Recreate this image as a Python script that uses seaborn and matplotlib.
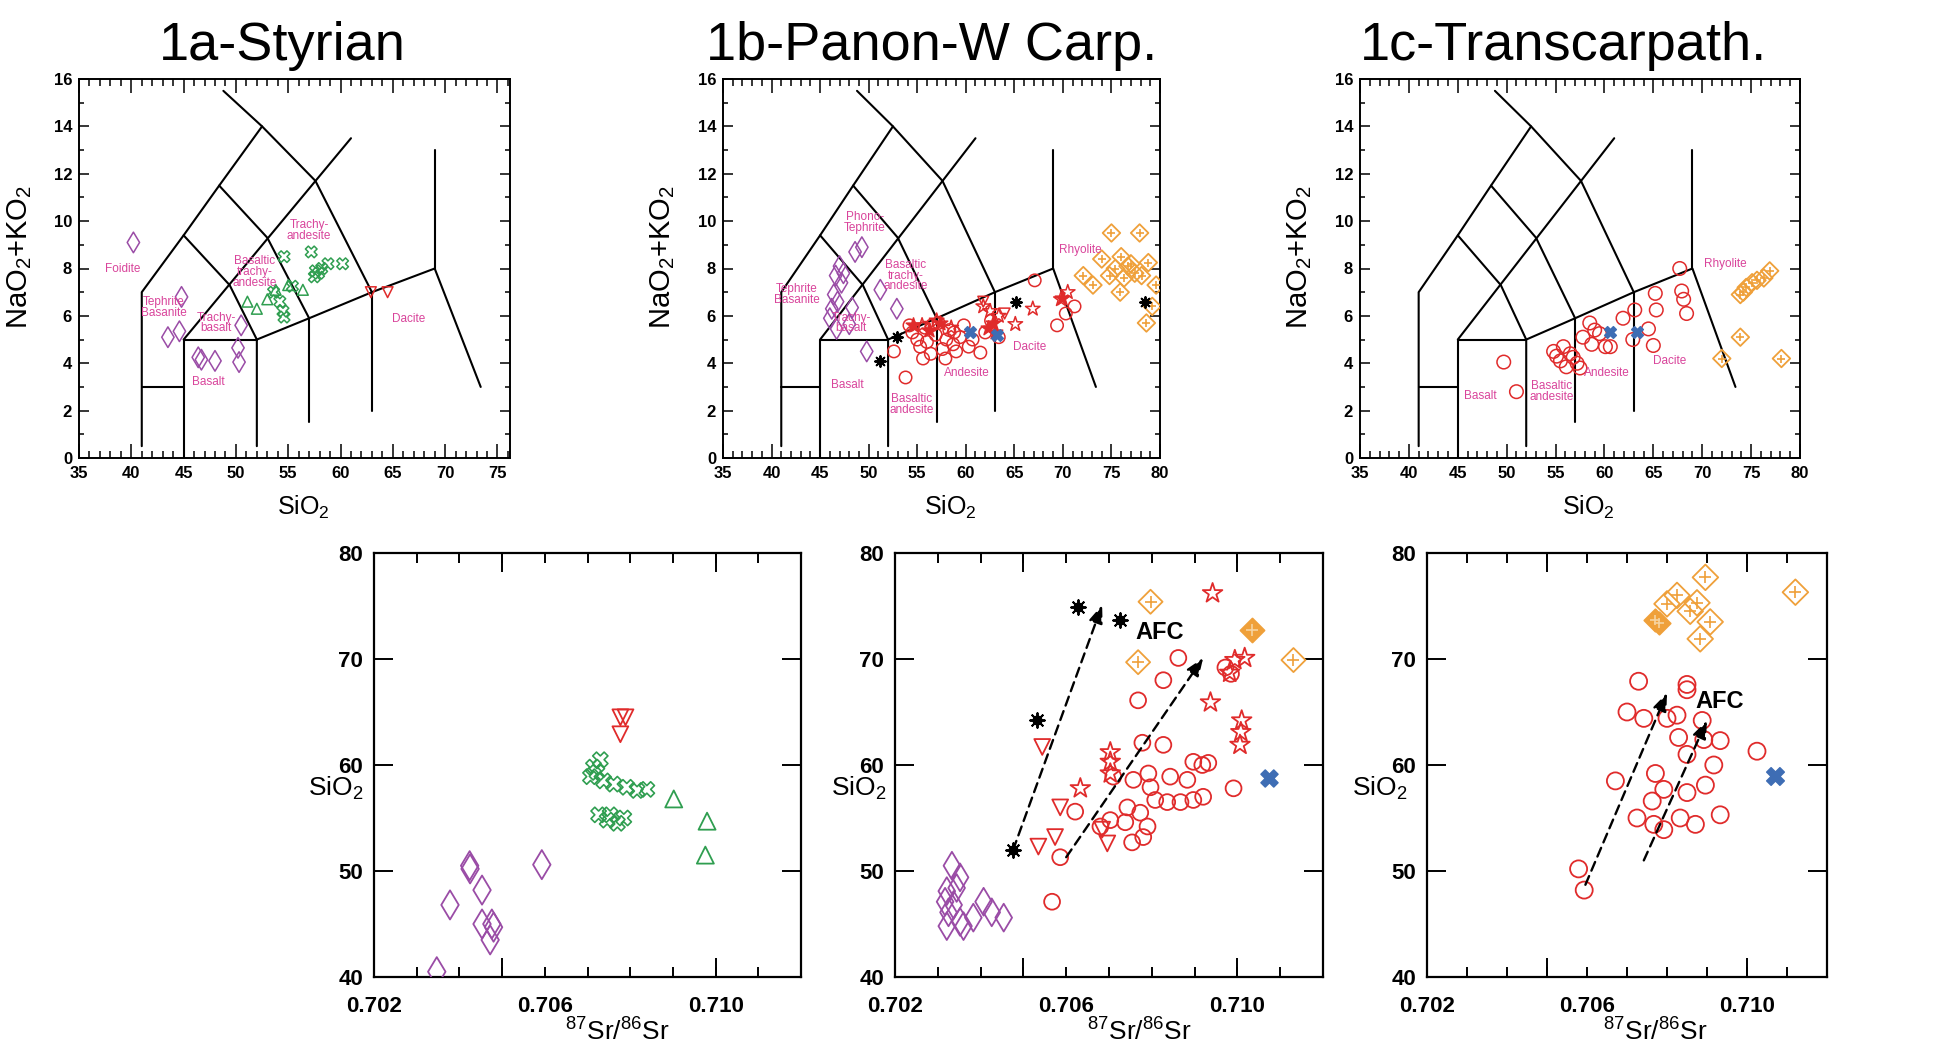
import numpy as np
import matplotlib
matplotlib.use("Agg")
import matplotlib.pyplot as plt
import seaborn as sns
from matplotlib.ticker import MultipleLocator, FixedLocator, NullFormatter

sns.set_theme(style="ticks")
plt.rcParams["font.family"] = ["Liberation Sans", "DejaVu Sans"]
plt.rcParams["mathtext.fontset"] = "custom"
plt.rcParams["mathtext.rm"] = "Liberation Sans"
plt.rcParams["mathtext.it"] = "Liberation Sans:italic"
plt.rcParams["mathtext.bf"] = "Liberation Sans:bold"
plt.rcParams["axes.edgecolor"] = "black"
plt.rcParams["axes.linewidth"] = 1.4
for key in ["text.color", "axes.labelcolor", "xtick.color", "ytick.color"]:
    plt.rcParams[key] = "black"

PURPLE = "#9a4ca6"
GREEN = "#2f9e50"
RED = "#e02b2b"
ORANGE = "#efa03a"
BLUE = "#3e6db4"
PINK = "#d9449b"

# ---------------- TAS classification boundaries (SiO2, Na2O+K2O) ----------------
TAS_LINES = [
    ([41, 41, 45, 48.4, 52.5], [0.5, 7, 9.4, 11.5, 14]),
    ([41, 45], [3, 3]),
    ([45, 45, 52], [0, 5, 5]),
    ([52, 52, 57, 63, 69, 73.4], [0.5, 5, 5.9, 7, 8, 3]),
    ([57, 57], [1.5, 5.9]),
    ([63, 63], [2, 7]),
    ([69, 69], [8, 13]),
    ([45, 49.4, 52], [9.4, 7.3, 5]),
    ([48.4, 53, 57], [11.5, 9.3, 5.9]),
    ([48.8, 52.5, 57.6, 63], [15.5, 14, 11.7, 7]),
    ([45, 61], [5, 13.5]),
]

# ---------------- 1a Styrian : TAS ----------------
sty_tas_diam_si = [40.2, 44.8, 43.5, 44.6, 46.4, 46.7, 48.0, 50.2, 50.3, 50.5]
sty_tas_diam_alk = [9.1, 6.8, 5.1, 5.35, 4.25, 4.15, 4.1, 4.65, 4.05, 5.6]
sty_tas_cross_si = [54.6, 57.2, 58.8, 60.2, 57.6, 57.9, 57.5, 58.2, 54.5, 54.6, 53.6, 55.4, 54.2]
sty_tas_cross_alk = [8.5, 8.7, 8.2, 8.2, 7.9, 7.8, 7.65, 8.0, 6.2, 5.95, 7.0, 7.25, 6.6]
sty_tas_tri_si = [51.1, 52.0, 53.0, 53.8, 55.0, 56.4]
sty_tas_tri_alk = [6.6, 6.3, 6.7, 7.1, 7.3, 7.1]
sty_tas_dtri_si = [62.9, 64.5]
sty_tas_dtri_alk = [7.0, 7.0]

# ---------------- 1b Panon-W Carp. : TAS ----------------
pan_tas_diam_si = [46.6, 46.2, 46.0, 46.7, 47.2, 47.0, 46.4, 46.8, 47.4, 48.6, 49.3, 51.2, 52.9, 48.3, 49.8, 48.0]
pan_tas_diam_alk = [7.7, 6.3, 5.9, 5.45, 7.4, 8.1, 6.9, 6.6, 7.8, 8.7, 8.9, 7.1, 6.3, 6.35, 4.5, 5.65]
pan_tas_circ_si = [52.6, 53.8, 54.5, 55.0, 55.3, 55.8, 56.0, 56.4, 56.9, 57.2, 57.6, 58.0, 58.3, 58.7,
                   59.0, 59.4, 59.8, 60.3, 60.7, 61.5, 62.0, 62.6, 63.4, 55.6, 57.9, 54.2, 56.5, 58.8,
                   67.1, 69.4, 71.2, 70.3]
pan_tas_circ_alk = [4.5, 3.4, 5.3, 5.0, 4.7, 5.5, 4.9, 4.4, 5.2, 5.7, 4.6, 5.0, 5.4, 4.8,
                    4.5, 5.1, 5.6, 4.7, 5.0, 4.45, 5.3, 5.8, 5.1, 4.2, 4.2, 5.6, 5.6, 5.3,
                    7.5, 5.6, 6.4, 6.1]
pan_tas_star_si = [61.8, 63.4, 65.1, 66.9, 69.8, 70.5, 62.5, 55.5, 57.0, 58.5]
pan_tas_star_alk = [6.4, 6.0, 5.65, 6.3, 6.7, 7.0, 6.2, 5.6, 5.8, 5.5]
pan_tas_fstar_si = [62.3, 62.8, 63.0, 69.9, 56.2, 57.3, 54.6]
pan_tas_fstar_alk = [5.5, 5.7, 5.3, 6.75, 5.4, 5.7, 5.6]
pan_tas_dtri_si = [61.8, 64.0]
pan_tas_dtri_alk = [6.6, 6.1]
pan_tas_ast_si = [52.9, 51.2, 65.2, 78.5]
pan_tas_ast_alk = [5.1, 4.1, 6.6, 6.6]
pan_tas_blue_si = [60.4, 63.2]
pan_tas_blue_alk = [5.3, 5.2]
pan_tas_orng_si = [75.0, 77.9, 73.1, 75.9, 74.0, 76.0, 76.7, 77.4, 78.1, 78.8, 78.6, 79.6, 72.1, 74.8,
                   76.3, 77.0, 75.4, 79.2]
pan_tas_orng_alk = [9.5, 9.5, 7.3, 7.0, 8.4, 8.5, 8.1, 7.8, 7.7, 8.25, 5.7, 7.3, 7.7, 7.7,
                    7.6, 8.2, 8.0, 6.4]

# ---------------- 1c Transcarpath. : TAS ----------------
tra_tas_circ_si = [49.7, 51.0, 54.8, 55.1, 55.8, 56.5, 57.2, 57.5, 56.1, 56.8, 55.5, 57.8, 58.5, 58.7,
                   59.0, 59.5, 60.1, 61.9, 63.1, 62.9, 64.5, 65.0, 65.2, 65.3, 67.7, 67.9, 68.1, 68.4,
                   60.6]
tra_tas_circ_alk = [4.05, 2.8, 4.5, 4.3, 4.7, 4.4, 4.0, 3.8, 3.85, 4.25, 4.1, 5.1, 5.7, 4.8,
                    5.4, 5.25, 4.7, 5.9, 6.25, 5.0, 5.45, 4.75, 6.95, 6.25, 8.0, 7.05, 6.7, 6.1,
                    4.7]
tra_tas_blue_si = [60.6, 63.3]
tra_tas_blue_alk = [5.3, 5.3]
tra_tas_orng_si = [73.9, 74.5, 75.1, 75.6, 76.3, 76.9, 74.2, 73.9, 72.0, 78.1]
tra_tas_orng_alk = [6.9, 7.2, 7.4, 7.5, 7.6, 7.9, 7.0, 5.1, 4.2, 4.2]

# ---------------- 2a Styrian : SiO2 vs 87Sr/86Sr ----------------
sty_sr_diam_sr = [0.70347, 0.70378, 0.70424, 0.70425, 0.70453, 0.70453, 0.70476, 0.70480, 0.70472, 0.70593]
sty_sr_diam_si = [40.5, 46.8, 50.5, 50.2, 48.2, 45.0, 45.0, 44.7, 43.5, 50.6]
sty_sr_cross_sr = [0.70714, 0.70730, 0.70707, 0.70738, 0.70761, 0.70792, 0.70816, 0.70839,
                   0.70726, 0.70746, 0.70770, 0.70785, 0.70753, 0.70722]
sty_sr_cross_si = [59.8, 60.5, 58.9, 58.5, 58.2, 57.9, 57.6, 57.7,
                   55.3, 54.8, 54.5, 55.0, 55.3, 59.3]
sty_sr_tri_sr = [0.70902, 0.70980, 0.70976]
sty_sr_tri_si = [56.8, 54.7, 51.5]
sty_sr_dtri_sr = [0.70777, 0.70789, 0.70777]
sty_sr_dtri_si = [64.5, 64.5, 62.9]

# ---------------- 2b Panon-W Carp. : SiO2 vs 87Sr/86Sr ----------------
pan_sr_diam_sr = [0.70333, 0.70352, 0.70321, 0.70317, 0.70325, 0.70321, 0.70352, 0.70360, 0.70383,
                  0.70407, 0.70426, 0.70454, 0.70337, 0.70344]
pan_sr_diam_si = [50.5, 49.4, 48.1, 47.1, 46.1, 44.8, 45.2, 44.8, 45.6,
                  47.1, 46.1, 45.6, 46.8, 48.4]
pan_sr_ast_sr = [0.70476, 0.70532, 0.70628, 0.70726]
pan_sr_ast_si = [52.0, 64.2, 74.9, 73.7]
pan_sr_dtri_sr = [0.70544, 0.70586, 0.70535, 0.70574, 0.70696, 0.70684]
pan_sr_dtri_si = [61.7, 56.0, 52.3, 53.2, 52.6, 53.9]
pan_sr_circ_sr = [0.70567, 0.70586, 0.70621, 0.70768, 0.70827, 0.70862, 0.70991,
                  0.70778, 0.70827, 0.70897, 0.70918, 0.70932, 0.70710, 0.70757, 0.70792,
                  0.70843, 0.70883, 0.70797, 0.70808, 0.70836, 0.70867, 0.70897, 0.70920,
                  0.70743, 0.70773, 0.70703, 0.70738, 0.70680, 0.70790, 0.70754, 0.70780,
                  0.70972, 0.70985]
pan_sr_circ_si = [47.1, 51.3, 55.6, 66.1, 68.0, 70.1, 57.8,
                  62.1, 61.9, 60.3, 60.0, 60.2, 58.9, 58.6, 59.2,
                  58.9, 58.6, 57.9, 56.7, 56.5, 56.5, 56.7, 57.0,
                  56.0, 55.5, 54.8, 54.6, 54.2, 54.2, 52.7, 53.2,
                  69.2, 68.6]
pan_sr_star_sr = [0.70942, 0.70937, 0.70633, 0.70703, 0.70703, 0.70703, 0.71010, 0.71008, 0.71006,
                  0.70994, 0.71017, 0.70982]
pan_sr_star_si = [76.2, 65.9, 57.8, 61.2, 60.3, 59.2, 64.2, 63.1, 61.9,
                  69.9, 70.1, 68.7]
pan_sr_orng_sr = [0.70797, 0.70768, 0.71131]
pan_sr_orng_si = [75.4, 69.7, 69.9]
pan_sr_forng_sr = [0.71035]
pan_sr_forng_si = [72.7]
pan_sr_blue_sr = [0.71073]
pan_sr_blue_si = [58.8]
pan_afc_start_sr = [0.70476, 0.70600]
pan_afc_start_si = [52.0, 51.3]
pan_afc_tip_sr = [0.70684, 0.70920]
pan_afc_tip_si = [75.1, 70.1]

# ---------------- 2c Transcarpath. : SiO2 vs 87Sr/86Sr ----------------
tra_sr_circ_sr = [0.70579, 0.70593, 0.70671, 0.70700, 0.70729, 0.70742, 0.70771, 0.70763, 0.70725,
                  0.70767, 0.70792, 0.70792, 0.70800, 0.70825, 0.70829, 0.70850, 0.70850, 0.70850,
                  0.70850, 0.70833, 0.70871, 0.70888, 0.70892, 0.70896, 0.70917, 0.70933, 0.70933,
                  0.71025]
tra_sr_circ_si = [50.2, 48.2, 58.5, 65.0, 67.9, 64.4, 59.2, 56.6, 55.0,
                  54.4, 53.9, 57.7, 64.4, 64.7, 62.6, 67.6, 67.1, 61.0,
                  57.4, 55.0, 54.4, 64.2, 62.4, 58.1, 60.0, 62.3, 55.3,
                  61.3]
tra_sr_orng_sr = [0.70896, 0.71121, 0.70825, 0.70800, 0.70875, 0.70858, 0.70908, 0.70883]
tra_sr_orng_si = [77.7, 76.3, 76.0, 75.2, 75.3, 74.5, 73.5, 71.9]
tra_sr_forng_sr = [0.70771, 0.70780]
tra_sr_forng_si = [73.7, 73.4]
tra_sr_blue_sr = [0.71071]
tra_sr_blue_si = [59.0]
tra_afc_start_sr = [0.70596, 0.70742]
tra_afc_start_si = [48.7, 51.0]
tra_afc_tip_sr = [0.70800, 0.70900]
tra_afc_tip_si = [66.8, 64.2]

SR_TICKS = [0.702, 0.703, 0.704, 0.705, 0.706, 0.707, 0.708, 0.709, 0.710, 0.711, 0.712]
SR_TICK_LABELS = ["0.702", "", "", "", "0.706", "", "", "", "0.710", "", ""]


def scatter(ax, x, y, marker, color, size, style="open", lw=1.1, z=3):
    kw = dict(x=np.asarray(x, float), y=np.asarray(y, float), ax=ax, marker=marker,
              s=size, linewidth=lw, zorder=z, legend=False)
    if style == "open":
        sns.scatterplot(**kw, facecolor="none", edgecolor=color)
    elif style == "filled":
        sns.scatterplot(**kw, color=color, edgecolor=color)
    else:
        sns.scatterplot(**kw, color=color)


def rhyolite_marker(ax, x, y, size, filled=False):
    scatter(ax, x, y, "D", ORANGE, size, style="filled" if filled else "open", lw=1.3)
    scatter(ax, x, y, "+", "#f6d3a0" if filled else ORANGE, size * 0.45, style="line", lw=1.2, z=4)


def asterisk(ax, x, y, size):
    scatter(ax, x, y, "o", "black", size * 0.35, style="filled", z=5)
    scatter(ax, x, y, (8, 2, 0), "black", size, style="line", lw=1.4, z=5)


def tas_frame(ax, xmax):
    for xs, ys in TAS_LINES:
        ax.plot(xs, ys, color="black", lw=1.5, zorder=2)
    ax.set_xlim(35, xmax)
    ax.set_ylim(0, 16)
    ax.xaxis.set_major_locator(MultipleLocator(5))
    ax.xaxis.set_minor_locator(MultipleLocator(1))
    ax.yaxis.set_major_locator(MultipleLocator(2))
    ax.yaxis.set_minor_locator(MultipleLocator(1))
    ax.tick_params(which="both", direction="in", top=True, right=True, bottom=True, left=True,
                   color="black", width=1.1)
    ax.tick_params(axis="x", which="major", length=10, pad=6, labelsize=12)
    ax.tick_params(axis="x", which="minor", length=5)
    ax.tick_params(axis="y", which="major", length=7, pad=5, labelsize=12)
    ax.tick_params(axis="y", which="minor", length=3.5)
    for lab in ax.get_xticklabels() + ax.get_yticklabels():
        lab.set_fontweight("bold")
    ax.set_xlabel("SiO$_2$", fontsize=18, labelpad=0)
    ax.set_ylabel("NaO$_2$+KO$_2$", fontsize=21)
    ax.yaxis.set_label_coords(-0.105, 0.53)
    ax.xaxis.set_label_coords(0.52, -0.095)


def field_label(ax, x, y, text):
    ax.text(x, y, text, color=PINK, fontsize=8.5, ha="center", va="center",
            linespacing=0.85, zorder=4)


def sr_frame(ax):
    ax.set_xlim(0.702, 0.712)
    ax.set_ylim(40, 80)
    ax.xaxis.remove_overlapping_locs = False
    ax.xaxis.set_major_locator(FixedLocator([0.705, 0.710]))
    ax.xaxis.set_major_formatter(NullFormatter())
    ax.set_xticks(SR_TICKS, minor=True)
    ax.set_xticklabels(SR_TICK_LABELS, minor=True)
    ax.yaxis.set_major_locator(MultipleLocator(10))
    ax.tick_params(which="both", direction="in", top=True, right=True, bottom=True, left=True,
                   color="black", width=1.4)
    ax.tick_params(axis="x", which="major", length=14)
    ax.tick_params(axis="x", which="minor", length=7, pad=14, labelsize=16)
    ax.tick_params(axis="y", which="major", length=14, pad=8, labelsize=16)
    for lab in (ax.get_xticklabels(minor=True) + ax.get_yticklabels()):
        lab.set_fontweight("bold")
    ax.set_xlabel("$^{87}$Sr/$^{86}$Sr", fontsize=19)
    ax.xaxis.set_label_coords(0.57, -0.098)
    ax.set_ylabel("SiO$_2$", fontsize=19, rotation=0, ha="right", va="center")
    for s in ax.spines.values():
        s.set_linewidth(1.6)


def afc_arrows(ax, xs0, ys0, xs1, ys1):
    for x0, y0, x1, y1 in zip(xs0, ys0, xs1, ys1):
        ax.annotate("", xy=(x1, y1), xytext=(x0, y0), zorder=6,
                    arrowprops=dict(arrowstyle="-|>,head_length=0.9,head_width=0.35",
                                    linestyle=(0, (4, 2.5)), color="black", lw=1.7,
                                    shrinkA=0, shrinkB=0))


W, H = 1938, 1059
fig = plt.figure(figsize=(W / 100, H / 100), dpi=100)
fig.patch.set_facecolor("white")


def px_axes(left, top, right, bottom):
    return fig.add_axes([left / W, 1 - bottom / H, (right - left) / W, (bottom - top) / H])


ax1a = px_axes(79, 79, 510, 458)
ax1b = px_axes(723, 79, 1160, 458)
ax1c = px_axes(1360, 79, 1800, 458)
ax2a = px_axes(374, 553, 801, 977)
ax2b = px_axes(895, 553, 1323, 977)
ax2c = px_axes(1427, 553, 1827, 977)

# ---- 1a ----
tas_frame(ax1a, 76.2)
for x, y, t in [(39.2, 8.0, "Foidite"), (43.1, 6.35, "Tephrite\nBasanite"),
                (48.1, 5.7, "Trachy-\nbasalt"), (47.4, 3.2, "Basalt"),
                (51.8, 7.85, "Basaltic\ntrachy-\nandesite"), (57.0, 9.6, "Trachy-\nandesite"),
                (66.5, 5.85, "Dacite")]:
    field_label(ax1a, x, y, t)
scatter(ax1a, sty_tas_diam_si, sty_tas_diam_alk, "d", PURPLE, 110)
scatter(ax1a, sty_tas_tri_si, sty_tas_tri_alk, "^", GREEN, 60)
scatter(ax1a, sty_tas_cross_si, sty_tas_cross_alk, "X", GREEN, 70)
scatter(ax1a, sty_tas_dtri_si, sty_tas_dtri_alk, "v", RED, 60)

# ---- 1b ----
tas_frame(ax1b, 80)
for x, y, t in [(49.6, 9.95, "Phono-\nTephrite"), (42.6, 6.9, "Tephrite\nBasanite"),
                (53.8, 7.7, "Basaltic\ntrachy-\nandesite"), (48.2, 5.7, "Trachy-\nbasalt"),
                (47.8, 3.1, "Basalt"), (54.4, 2.25, "Basaltic\nandesite"),
                (60.1, 3.6, "Andesite"), (66.6, 4.7, "Dacite"), (71.8, 8.8, "Rhyolite")]:
    field_label(ax1b, x, y, t)
scatter(ax1b, pan_tas_diam_si, pan_tas_diam_alk, "d", PURPLE, 110)
rhyolite_marker(ax1b, pan_tas_orng_si, pan_tas_orng_alk, 80)
scatter(ax1b, pan_tas_circ_si, pan_tas_circ_alk, "o", RED, 80)
scatter(ax1b, pan_tas_star_si, pan_tas_star_alk, "*", RED, 120)
scatter(ax1b, pan_tas_fstar_si, pan_tas_fstar_alk, "*", RED, 120, style="filled")
scatter(ax1b, pan_tas_dtri_si, pan_tas_dtri_alk, "v", RED, 60)
scatter(ax1b, pan_tas_blue_si, pan_tas_blue_alk, "X", BLUE, 70, style="filled")
asterisk(ax1b, pan_tas_ast_si, pan_tas_ast_alk, 60)

# ---- 1c ----
tas_frame(ax1c, 80)
for x, y, t in [(72.4, 8.2, "Rhyolite"), (66.7, 4.1, "Dacite"), (60.2, 3.6, "Andesite"),
                (54.6, 2.8, "Basaltic\nandesite"), (47.3, 2.6, "Basalt")]:
    field_label(ax1c, x, y, t)
scatter(ax1c, tra_tas_circ_si, tra_tas_circ_alk, "o", RED, 95)
scatter(ax1c, tra_tas_blue_si, tra_tas_blue_alk, "X", BLUE, 70, style="filled")
rhyolite_marker(ax1c, tra_tas_orng_si, tra_tas_orng_alk, 80)

# ---- 2a ----
sr_frame(ax2a)
ax2a.yaxis.set_label_coords(-0.025, 0.445)
scatter(ax2a, sty_sr_diam_sr, sty_sr_diam_si, "d", PURPLE, 220, lw=1.3)
scatter(ax2a, sty_sr_cross_sr, sty_sr_cross_si, "X", GREEN, 120, lw=1.2)
scatter(ax2a, sty_sr_tri_sr, sty_sr_tri_si, "^", GREEN, 150, lw=1.3)
scatter(ax2a, sty_sr_dtri_sr, sty_sr_dtri_si, "v", RED, 130, lw=1.3)

# ---- 2b ----
sr_frame(ax2b)
ax2b.yaxis.set_label_coords(-0.02, 0.445)
scatter(ax2b, pan_sr_diam_sr, pan_sr_diam_si, "d", PURPLE, 200, lw=1.3)
scatter(ax2b, pan_sr_circ_sr, pan_sr_circ_si, "o", RED, 130, lw=1.3)
scatter(ax2b, pan_sr_dtri_sr, pan_sr_dtri_si, "v", RED, 130, lw=1.3)
scatter(ax2b, pan_sr_star_sr, pan_sr_star_si, "*", RED, 220, lw=1.3)
rhyolite_marker(ax2b, pan_sr_orng_sr, pan_sr_orng_si, 150)
rhyolite_marker(ax2b, pan_sr_forng_sr, pan_sr_forng_si, 150, filled=True)
scatter(ax2b, pan_sr_blue_sr, pan_sr_blue_si, "X", BLUE, 150, style="filled")
asterisk(ax2b, pan_sr_ast_sr, pan_sr_ast_si, 110)
afc_arrows(ax2b, pan_afc_start_sr, pan_afc_start_si, pan_afc_tip_sr, pan_afc_tip_si)
ax2b.text(0.70762, 72.5, "AFC", fontsize=17, fontweight="bold", ha="left", va="center", zorder=7)

# ---- 2c ----
sr_frame(ax2c)
ax2c.yaxis.set_label_coords(-0.05, 0.445)
scatter(ax2c, tra_sr_circ_sr, tra_sr_circ_si, "o", RED, 150, lw=1.3)
rhyolite_marker(ax2c, tra_sr_orng_sr, tra_sr_orng_si, 170)
rhyolite_marker(ax2c, tra_sr_forng_sr, tra_sr_forng_si, 130, filled=True)
scatter(ax2c, tra_sr_blue_sr, tra_sr_blue_si, "X", BLUE, 160, style="filled")
afc_arrows(ax2c, tra_afc_start_sr, tra_afc_start_si, tra_afc_tip_sr, tra_afc_tip_si)
ax2c.text(0.70870, 66.0, "AFC", fontsize=17, fontweight="bold", ha="left", va="center", zorder=7)

# ---- panel titles ----
for xc, title in [(282, "1a-Styrian"), (932, "1b-Panon-W Carp."), (1564, "1c-Transcarpath.")]:
    fig.text(xc / W, 1 - 60 / H, title, ha="center", va="baseline", fontsize=39)

fig.savefig("out.png", dpi=100, facecolor="white")
